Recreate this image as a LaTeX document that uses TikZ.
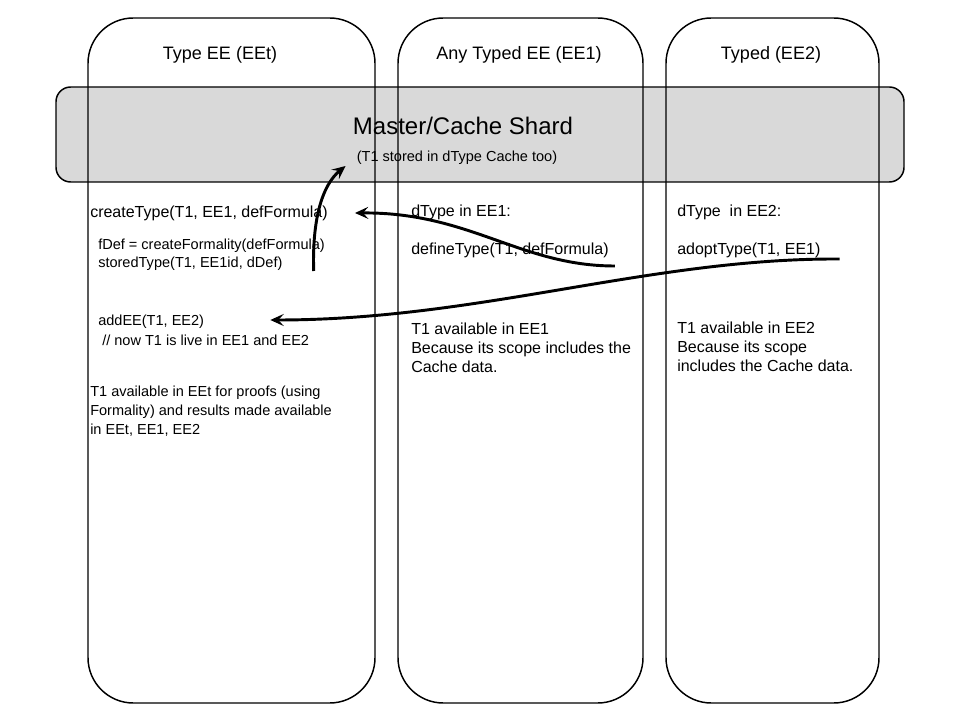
\documentclass[tikz,border=0pt]{standalone}
\usepackage{fontspec}
\setmainfont{Liberation Sans}
\usetikzlibrary{arrows.meta,calc}
\definecolor{shardgray}{RGB}{217,217,217}
\tikzstyle{lane}=[draw=black,line width=1.1pt,rounded corners=34pt]
\tikzstyle{shard}=[draw=black,fill=shardgray,line width=1.1pt,rounded corners=11pt]
\tikzstyle{lanetitle}=[inner sep=0pt,font=\fontsize{13.5}{16}\selectfont]
\tikzstyle{body}=[anchor=west,inner sep=0pt,align=left,font=\fontsize{12}{14.25}\selectfont]
\tikzstyle{note}=[body,font=\fontsize{10.9}{14.2}\selectfont]
\tikzstyle{flow}=[-{Stealth[length=10pt,width=9pt,inset=4pt]},line width=2.2pt]

\begin{document}
\begin{tikzpicture}[x=0.75pt,y=-0.75pt]
    \useasboundingbox (0,0) rectangle (960,720);
    % cache band behind the lanes
    \draw[shard] (56,87) rectangle (904,182);
    \foreach \l/\r in {88/375,398/643,666/879}
    \draw[lane] (\l,18) rectangle (\r,703);

    \node[lanetitle] (eet) at (220,55) {Type EE (EEt)};
    \node[lanetitle] (ee1) at (519,55) {Any Typed EE (EE1)};
    \node[lanetitle] (ee2) at (771,55) {Typed (EE2)};

    \node[inner sep=0pt,font=\fontsize{18}{20}\selectfont] (master) at (463,126) {Master/Cache Shard};
    \node[inner sep=0pt,font=\fontsize{10.9}{13}\selectfont] (sub) at (457,158) {(T1 stored in dType Cache too)};

    % Type EE
    \node[body] (create) at (90,213) {createType(T1, EE1, defFormula)};
    \node[note] (fdef) at (98,246) {fDef = createFormality(defFormula)};
    \node[note] (stored) at (98,264) {storedType(T1, EE1id, dDef)};
    \node[note] (addee) at (98,322) {addEE(T1, EE2)};
    \node[note] (live) at (102,340) {// now T1 is live in EE1 and EE2};
    \node[note] (proofs) at (90,411) {T1 available in EEt for proofs (using\\Formality) and results made available\\in EEt, EE1, EE2};

    % Any Typed EE
    \node[body] (dtype1) at (411,212) {dType in EE1:};
    \node[body] (define) at (411,250) {defineType(T1, defFormula)};
    \node[body] (avail1) at (411,348) {T1 available in EE1\\Because its scope includes the\\Cache data.};

    % Typed
    \node[body] (dtype2) at (677,212) {dType\ \ in EE2:};
    \node[body] (adopt) at (677,250) {adoptType(T1, EE1)};
    \node[body] (avail2) at (677,347) {T1 available in EE2\\Because its scope\\includes the Cache data.};

    \draw[flow] ($(stored.east)+(31,7)$) .. controls (312,220) and (322,185) .. ($(sub.west)+(-11,8)$);
    \draw[flow] ($(define.east)+(6,16)$) .. controls (520,266) and (470,212) .. ($(create.east)+(27,0)$);
    \draw[flow] ($(adopt.east)+(19,9)$) .. controls (650,258) and (480,320) .. ($(addee.east)+(66,-2)$);
\end{tikzpicture}
\end{document}
